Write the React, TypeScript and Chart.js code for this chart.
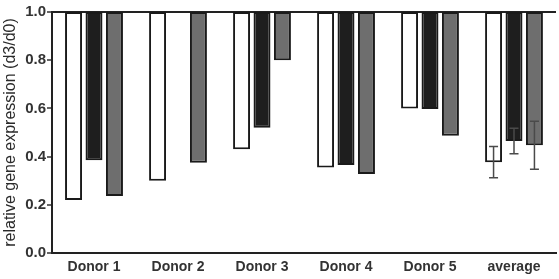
import React, { useEffect, useRef } from "react";
import { Chart, registerables } from "chart.js";

Chart.register(...registerables);

const categories = ["Donor 1", "Donor 2", "Donor 3", "Donor 4", "Donor 5", "average"];
const whiteValues = [0.22, 0.3, 0.43, 0.355, 0.6, 0.377];
const blackValues: (number | null)[] = [0.385, null, 0.52, 0.365, 0.598, 0.465];
const grayValues = [0.236, 0.375, 0.8, 0.328, 0.487, 0.447];
const averageErrors = [0.065, 0.053, 0.1];
const yTicks = [0, 0.2, 0.4, 0.6, 0.8, 1.0];
const baseline = 1.0;

const toFloating = (arr: (number | null)[]) =>
  arr.map((v) => (v === null ? null : [v, baseline]));

const errorBarPlugin = {
  id: "errorBars",
  afterDatasetsDraw(chart: any) {
    const ctx = chart.ctx;
    const yScale = chart.scales.y;
    const idx = categories.length - 1;
    const series = [whiteValues, blackValues, grayValues];
    ctx.save();
    ctx.strokeStyle = "#4a4a4a";
    ctx.lineWidth = 1.5;
    series.forEach((s, di) => {
      const meta = chart.getDatasetMeta(di);
      const el = meta.data[idx];
      const v = s[idx];
      if (!el || v === null) return;
      const x = el.x;
      const err = averageErrors[di];
      const yTop = yScale.getPixelForValue((v as number) + err);
      const yBot = yScale.getPixelForValue((v as number) - err);
      const cap = 4.5;
      ctx.beginPath();
      ctx.moveTo(x, yTop);
      ctx.lineTo(x, yBot);
      ctx.moveTo(x - cap, yTop);
      ctx.lineTo(x + cap, yTop);
      ctx.moveTo(x - cap, yBot);
      ctx.lineTo(x + cap, yBot);
      ctx.stroke();
    });
    ctx.restore();
  },
};

export default function App() {
  const ref = useRef<HTMLCanvasElement | null>(null);
  useEffect(() => {
    document.body.style.margin = "0";
    if (!ref.current) return;
    const common = {
      borderColor: "#1a1a1a",
      borderWidth: 2,
      borderSkipped: false as const,
      categoryPercentage: 0.73,
      barPercentage: 0.83,
    };
    const chart = new Chart(ref.current, {
      type: "bar",
      data: {
        labels: categories,
        datasets: [
          { ...common, label: "white", data: toFloating(whiteValues) as any, backgroundColor: "#ffffff" },
          { ...common, label: "black", data: toFloating(blackValues) as any, backgroundColor: "#1e1e1e" },
          { ...common, label: "gray", data: toFloating(grayValues) as any, backgroundColor: "#6e6e6e" },
        ],
      },
      options: {
        responsive: false,
        animation: false,
        layout: { padding: { top: 12, right: 3, left: 0, bottom: 0 } },
        plugins: { legend: { display: false }, tooltip: { enabled: false } },
        scales: {
          x: {
            grid: { display: false, drawTicks: false },
            border: { display: true, color: "#222", width: 2 },
            ticks: {
              color: "#333",
              font: { family: "Liberation Sans, Arial", size: 14, weight: "bold" },
              padding: 6,
              maxRotation: 0,
            },
            afterFit(scale: any) {
              scale.height = 26;
            },
          },
          y: {
            min: 0,
            max: 1,
            afterBuildTicks(scale: any) {
              scale.ticks = yTicks.map((v) => ({ value: v }));
            },
            grid: {
              drawOnChartArea: true,
              color: (c: any) => (c.tick && c.tick.value === 1 ? "#222" : "rgba(0,0,0,0)"),
              lineWidth: 2,
              tickColor: "#333",
              tickLength: 5,
              tickWidth: 1.5,
            },
            border: { display: true, color: "#222", width: 2 },
            ticks: {
              color: "#333",
              padding: 1,
              font: { family: "Liberation Sans, Arial", size: 15, weight: "bold" },
              callback: (v: any) => Number(v).toFixed(1),
            },
            title: {
              display: true,
              text: "relative gene expression (d3/d0)",
              color: "#2a2a2a",
              font: { family: "Liberation Sans, Arial", size: 16 },
              padding: { top: 1, bottom: 0 },
            },
            afterFit(scale: any) {
              scale.width = 52;
            },
          },
        },
      },
      plugins: [errorBarPlugin],
    });
    return () => chart.destroy();
  }, []);
  return (
    <div style={{ position: "fixed", left: 0, top: 0, width: 559, height: 279, background: "#fff" }}>
      <canvas ref={ref} width={559} height={279} />
    </div>
  );
}
